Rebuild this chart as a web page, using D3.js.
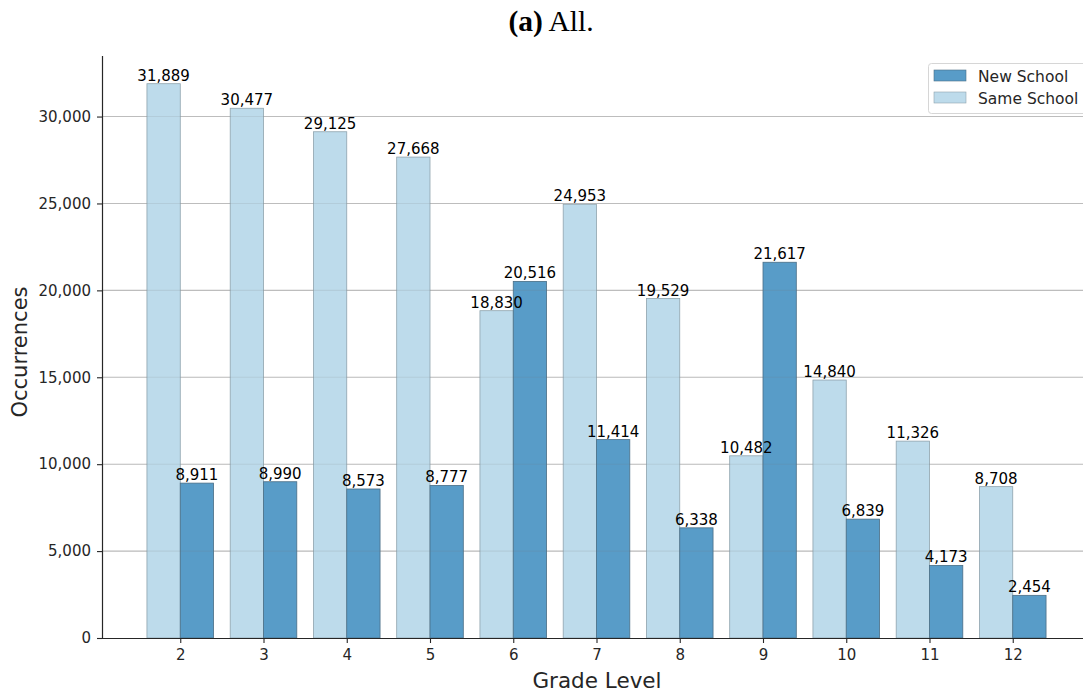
<!DOCTYPE html>
<html>
<head>
<meta charset="utf-8">
<script src="https://cdn.jsdelivr.net/npm/d3@7"></script>
<style>
  body { margin: 0; background: #fff; }
  svg { display: block; }
</style>
</head>
<body>
<svg id="chart" width="1083" height="694"></svg>
<script>
// Grade levels and the two series of occurrence counts
const grades = [2, 3, 4, 5, 6, 7, 8, 9, 10, 11, 12];
const sameSchool = [31889, 30477, 29125, 27668, 18830, 24953, 19529, 10482, 14840, 11326, 8708];
const newSchool = [8911, 8990, 8573, 8777, 20516, 11414, 6338, 21617, 6839, 4173, 2454];
const yTicks = [0, 5000, 10000, 15000, 20000, 25000, 30000];
const seriesNames = ["New School", "Same School"];

const colors = { "New School": "#589cc8", "Same School": "#bddbeb" };
const edges = { "New School": "#4a6e86", "Same School": "#8fa3ad" };

const svg = d3.select("#chart");
const plotLeft = 102, plotBottom = 638, plotTop = 56;
const barW = 0.4;

const x = d3.scaleLinear().domain([1.06, 12.94]).range([plotLeft, 1091]);
const y = d3.scaleLinear().domain([0, 31889 * 1.05]).range([plotBottom, plotTop]);

// Title
const title = svg.append("text")
  .attr("x", 551).attr("y", 31)
  .attr("text-anchor", "middle")
  .attr("font-family", "Liberation Serif, Times New Roman, serif")
  .attr("font-size", 29.5)
  .attr("fill", "#000");
title.append("tspan").attr("font-weight", "bold").text("(a)");
title.append("tspan").text(" All.");

// Horizontal grid behind the bars
const gridG = svg.append("g");
gridG.selectAll("line").data(yTicks.slice(1)).join("line")
  .attr("x1", plotLeft).attr("x2", 1083)
  .attr("y1", d => y(d)).attr("y2", d => y(d))
  .attr("stroke", "#c9c9c9").attr("stroke-width", 1.1);

const fmt = d3.format(",");

// Bars: Same School on the left of each tick, New School on the right
const rows = grades.map((g, i) => ({ g, same: sameSchool[i], nw: newSchool[i] }));

const barsG = svg.append("g");
barsG.selectAll("rect.same").data(rows).join("rect")
  .attr("class", "same")
  .attr("x", d => x(d.g - barW))
  .attr("width", d => x(d.g) - x(d.g - barW))
  .attr("y", d => y(d.same))
  .attr("height", d => y(0) - y(d.same))
  .attr("fill", colors["Same School"])
  .attr("stroke", edges["Same School"]).attr("stroke-width", 0.8);

barsG.selectAll("rect.new").data(rows).join("rect")
  .attr("class", "new")
  .attr("x", d => x(d.g))
  .attr("width", d => x(d.g + barW) - x(d.g))
  .attr("y", d => y(d.nw))
  .attr("height", d => y(0) - y(d.nw))
  .attr("fill", colors["New School"])
  .attr("stroke", edges["New School"]).attr("stroke-width", 0.8);

// Faint grid showing through the bars
svg.append("g").selectAll("line").data(yTicks.slice(1)).join("line")
  .attr("x1", plotLeft).attr("x2", 1083)
  .attr("y1", d => y(d)).attr("y2", d => y(d))
  .attr("stroke", "rgba(120,120,120,0.15)").attr("stroke-width", 1.1);

// Value labels
const lblG = svg.append("g")
  .attr("font-family", "DejaVu Sans, sans-serif")
  .attr("font-size", 15)
  .attr("fill", "#000")
  .attr("text-anchor", "middle");
lblG.selectAll("text.same").data(rows).join("text")
  .attr("x", d => x(d.g - barW / 2))
  .attr("y", d => y(d.same) - 3)
  .text(d => fmt(d.same));
lblG.selectAll("text.new").data(rows).join("text")
  .attr("x", d => x(d.g + barW / 2))
  .attr("y", d => y(d.nw) - 3)
  .text(d => fmt(d.nw));

// Axes
const xAxis = d3.axisBottom(x).tickValues(grades).tickSize(5).tickPadding(6).tickFormat(d3.format("d"));
const yAxis = d3.axisLeft(y).tickValues(yTicks).tickSize(5).tickPadding(6).tickFormat(fmt);

const xg = svg.append("g").attr("transform", `translate(0,${plotBottom})`).call(xAxis);
xg.select(".domain").attr("d", `M${plotLeft},0.5H1083`).attr("stroke", "#262626").attr("stroke-width", 1.2);
const yg = svg.append("g").attr("transform", `translate(${plotLeft},0)`).call(yAxis);
yg.select(".domain").attr("d", `M0.5,${plotTop}V${plotBottom}`).attr("stroke", "#262626").attr("stroke-width", 1.2);

[xg, yg].forEach(g => {
  g.selectAll(".tick line").attr("stroke", "#262626").attr("stroke-width", 1.1);
  g.selectAll(".tick text")
    .attr("font-family", "DejaVu Sans, sans-serif")
    .attr("font-size", 15)
    .attr("fill", "#262626");
});

// Axis titles
svg.append("text")
  .attr("x", 597).attr("y", 688)
  .attr("text-anchor", "middle")
  .attr("font-family", "DejaVu Sans, sans-serif")
  .attr("font-size", 21.5)
  .attr("fill", "#262626")
  .text("Grade Level");

svg.append("text")
  .attr("transform", "translate(27,352) rotate(-90)")
  .attr("text-anchor", "middle")
  .attr("font-family", "DejaVu Sans, sans-serif")
  .attr("font-size", 21)
  .attr("fill", "#262626")
  .text("Occurrences");

// Legend
const leg = svg.append("g").attr("transform", "translate(928,63)");
leg.append("rect")
  .attr("x", 0.5).attr("y", 0.5).attr("width", 162).attr("height", 50)
  .attr("rx", 3)
  .attr("fill", "rgba(255,255,255,0.85)")
  .attr("stroke", "#d6d6d6");
seriesNames.forEach((name, i) => {
  const row = leg.append("g").attr("transform", `translate(0,${13 + i * 22})`);
  row.append("rect")
    .attr("x", 6).attr("y", -6).attr("width", 32).attr("height", 11)
    .attr("fill", colors[name])
    .attr("stroke", edges[name]).attr("stroke-width", 0.6);
  row.append("text")
    .attr("x", 50).attr("y", 5.5)
    .attr("font-family", "DejaVu Sans, sans-serif")
    .attr("font-size", 15.5)
    .attr("fill", "#262626")
    .text(name);
});
</script>
</body>
</html>
